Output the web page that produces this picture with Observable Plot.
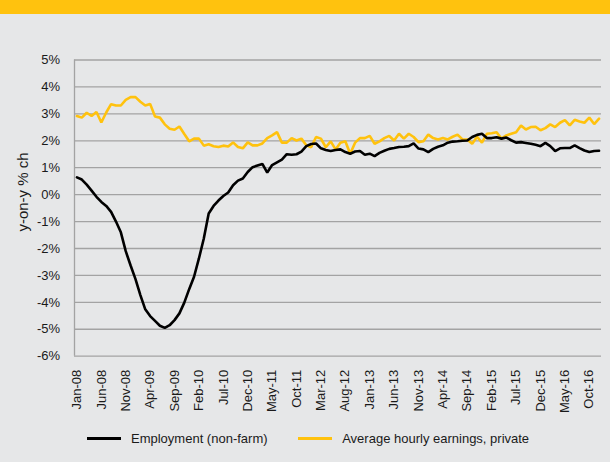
<!DOCTYPE html>
<html>
<head>
<meta charset="utf-8">
<script src="https://cdn.jsdelivr.net/npm/d3@7"></script>
<script src="https://cdn.jsdelivr.net/npm/@observablehq/plot@0.6"></script>
<style>
  html, body { margin: 0; padding: 0; }
  body { width: 610px; height: 462px; background: #e6e7e8; position: relative; overflow: hidden;
         font-family: "Liberation Sans", Arial, sans-serif; }
  #band { position: absolute; left: 0; top: 0; width: 610px; height: 14px; background: #ffc20e; }
  #chart { position: absolute; left: 0; top: 14px; }
  #ylabel { position: absolute; left: 22px; top: 192px; transform: translate(-50%, -50%) rotate(-90deg);
            font-size: 15px; color: #1a1a1a; white-space: nowrap; }
  #legend { position: absolute; top: 428px; left: 87px; font-size: 13px; color: #1a1a1a; white-space: nowrap; }
  .item { display: inline-flex; align-items: center; }
  .sw { display: inline-block; width: 34px; height: 3px; margin-right: 10px; }
</style>
</head>
<body>
<div id="band"></div>
<div id="chart"></div>
<div id="ylabel">y-on-y % ch</div>
<div id="legend">
  <span class="item"><span class="sw" style="background:#000"></span>Employment (non-farm)</span>
  <span class="item" style="margin-left:27px"><span class="sw" style="background:#ffc20e"></span>Average hourly earnings, private</span>
</div>
<script>
// Months Jan-08 .. Dec-16
const months = d3.utcMonth.range(new Date(Date.UTC(2008, 0, 1)), new Date(Date.UTC(2017, 0, 1)));
const monthLabels = months.map(d3.utcFormat("%b-%y"));

// Employment (non-farm), y-on-y % change
const employment = [
  0.64, 0.56, 0.37, 0.15, -0.08, -0.27, -0.42, -0.64, -1.0, -1.4,
  -2.1, -2.63, -3.14, -3.73, -4.26, -4.51, -4.69, -4.87, -4.95, -4.85,
  -4.66, -4.41, -4.01, -3.51, -3.05, -2.37, -1.63, -0.7, -0.42, -0.22,
  -0.05, 0.08, 0.35, 0.52, 0.6, 0.84, 1.02, 1.08, 1.14, 0.82,
  1.1, 1.2, 1.3, 1.5, 1.48, 1.5, 1.6, 1.8, 1.88, 1.9,
  1.72, 1.66, 1.62, 1.66, 1.68, 1.58, 1.52, 1.6, 1.62, 1.48,
  1.52, 1.43, 1.55, 1.63, 1.7, 1.73, 1.77, 1.78, 1.8, 1.9,
  1.71, 1.68, 1.58, 1.7, 1.78, 1.83, 1.93, 1.97, 1.98, 2.0,
  2.01, 2.14, 2.22, 2.26, 2.1, 2.1, 2.13, 2.08, 2.12, 2.02,
  1.93, 1.95, 1.92, 1.89, 1.85, 1.8, 1.92, 1.8, 1.62, 1.72,
  1.73, 1.73, 1.83, 1.73, 1.64, 1.58, 1.62, 1.63
];

// Average hourly earnings, private, y-on-y % change
const earnings = [
  2.92, 2.86, 3.04, 2.92, 3.07, 2.68, 3.05, 3.36, 3.31, 3.31,
  3.52, 3.62, 3.62, 3.45, 3.31, 3.37, 2.9, 2.86, 2.61, 2.45,
  2.41, 2.53, 2.25, 1.98, 2.08, 2.08, 1.82, 1.87, 1.8, 1.77,
  1.82, 1.79, 1.94, 1.77, 1.72, 1.94, 1.83, 1.83, 1.9, 2.1,
  2.2, 2.32, 1.93, 1.93, 2.1, 2.01, 2.08, 1.83, 1.76, 2.14,
  2.08, 1.76, 1.98, 1.68, 1.93, 1.98, 1.52, 1.93, 2.1, 2.1,
  2.18, 1.89, 1.98, 2.1, 2.18, 2.01, 2.26, 2.08, 2.26, 2.14,
  1.95, 1.98, 2.23, 2.1, 2.05, 2.1, 2.05, 2.15, 2.23, 2.05,
  2.05, 1.89, 2.15, 1.93, 2.26, 2.28, 2.32, 2.08, 2.2, 2.26,
  2.32, 2.57, 2.42, 2.51, 2.52, 2.39, 2.47, 2.61, 2.51, 2.67,
  2.77, 2.57, 2.78, 2.72, 2.67, 2.86, 2.62, 2.82
];

const yTicks = [-6, -5, -4, -3, -2, -1, 0, 1, 2, 3, 4, 5];
const xTickEvery = 5;

const n = monthLabels.length;
const xTicks = d3.range(0, n, xTickEvery);

const chart = Plot.plot({
  width: 610,
  height: 400,
  marginLeft: 74,
  marginRight: 9,
  marginTop: 45.5,
  marginBottom: 58.3,
  style: { background: "transparent", fontFamily: "Liberation Sans, Arial, sans-serif", fontSize: "13px", color: "#1a1a1a" },
  x: { type: "linear", domain: [-0.5, n - 0.5] },
  y: { domain: [-6, 5] },
  marks: [
    Plot.ruleY(yTicks, { stroke: "#a3a3a3", strokeWidth: 1.3 }),
    Plot.ruleX([-0.5], { y1: -6, y2: 5, stroke: "#a3a3a3", strokeWidth: 1.3 }),
    Plot.axisY({ ticks: yTicks, tickSize: 0, tickPadding: 14.5, tickFormat: d => d + "%",
                 label: null, fontSize: 13 }),
    Plot.axisX({ ticks: xTicks, tickSize: 0, tickPadding: 13.5, tickRotate: -90,
                 tickFormat: i => monthLabels[i], label: null, fontSize: 13 }),
    Plot.line(earnings, { x: (d, i) => i, y: d => d, stroke: "#ffc20e", strokeWidth: 2.6, strokeLinejoin: "miter" }),
    Plot.line(employment, { x: (d, i) => i, y: d => d, stroke: "#000", strokeWidth: 2.6, strokeLinejoin: "miter" })
  ]
});
document.getElementById("chart").appendChild(chart);
</script>
</body>
</html>
